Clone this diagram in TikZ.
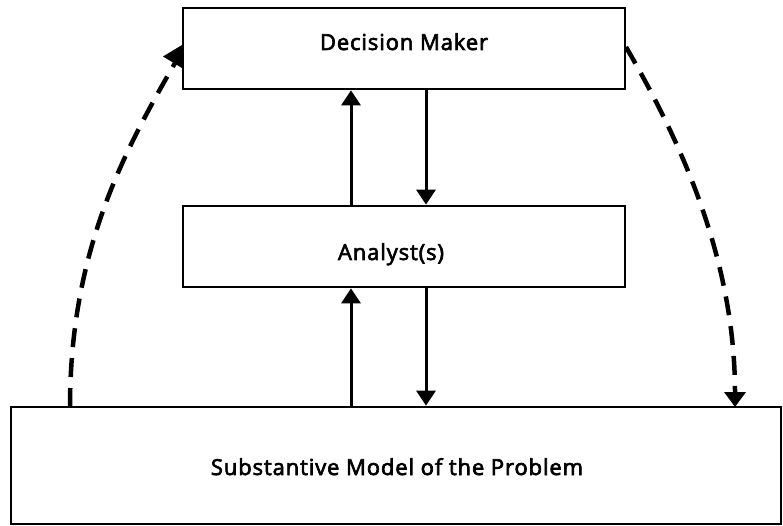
\documentclass[tikz,border=0pt]{standalone}
\usepackage{fontspec}
\setmainfont{Open Sans}[FakeBold=3, LetterSpace=4]
\usetikzlibrary{arrows.meta}
\begin{document}
\begin{tikzpicture}[x=1pt,y=-1pt,
  box/.style={draw, line width=2.6pt, inner sep=0pt},
  txt/.style={font=\fontsize{22}{26}\selectfont, anchor=base, inner sep=0pt},
  flow/.style={line width=3pt, -{Triangle[length=15pt,width=19pt]}},
  feedback/.style={line width=4.5pt, dash pattern=on 19pt off 11pt},
]
\useasboundingbox (0,0) rectangle (783,526);

% the three levels
\node[box, minimum width=442pt, minimum height=81pt]  (dm) at (404,48.5)  {};
\node[box, minimum width=442pt, minimum height=81pt]  (an) at (404,246.5) {};
\node[box, minimum width=770pt, minimum height=117pt] (sm) at (396,465.5) {};

\node[txt] (dmtext) at (404,50)  {Decision Maker};
\node[txt] (antext) at (391,260) {Analyst(s)};
\node[txt] (smtext) at (397,475) {Substantive Model of the Problem};

% columns of the vertical arrows
\coordinate (colA) at (351,0);
\coordinate (colB) at (426,0);

\draw[flow] (colA |- an.north) -- (colA |- dm.south);
\draw[flow] (colB |- dm.south) -- (colB |- an.north);
\draw[flow] (colA |- sm.north) -- (colA |- an.south);
\draw[flow] (colB |- an.south) -- (colB |- sm.north);

% dashed feedback, left: model up to the decision maker
\coordinate (smL) at (70,407);
\coordinate (tipL) at (175,63);
\coordinate (dmL) at (182,56.5);
\draw[feedback] (smL) .. controls (70,250) and (125,150) .. (tipL);
\fill (dmL) ++(0,-11.5) -- ++(-19,11.5) -- ++(19,11.5) -- cycle;

% dashed feedback, right: decision maker down to the model
\coordinate (dmR) at (626,47);
\coordinate (smR) at (735,407);
\draw[feedback, -{Triangle[length=15pt,width=21pt]}]
  (dmR) .. controls (677,135) and (735,255) .. (smR);
\end{tikzpicture}
\end{document}
